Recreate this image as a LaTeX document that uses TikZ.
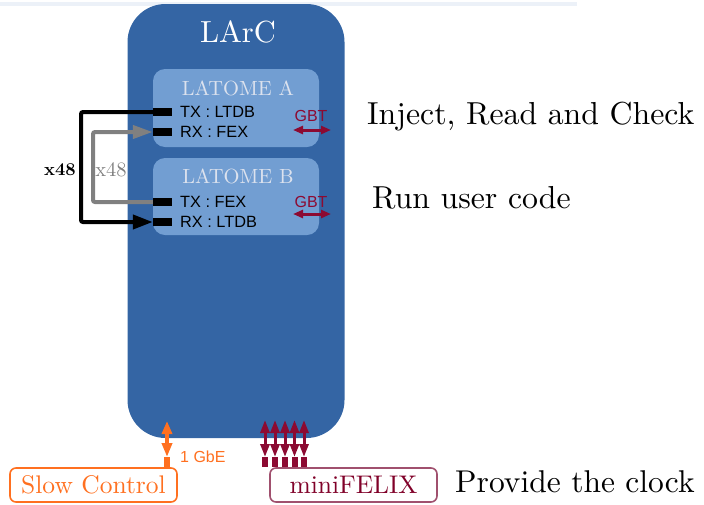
\documentclass[tikz,border=0pt]{standalone}
\usepackage{fontspec}
\usepackage{graphicx}
\newfontfamily\sansf{Liberation Sans}
\usetikzlibrary{arrows.meta}
\definecolor{larcblue}{RGB}{52,101,164}
\definecolor{latomeblue}{RGB}{114,158,210}
\definecolor{latometext}{RGB}{220,226,238}
\definecolor{gbtred}{RGB}{140,10,50}
\definecolor{slowor}{RGB}{255,112,32}
\definecolor{felixedge}{RGB}{160,80,110}
\definecolor{felixtext}{RGB}{128,0,40}
\definecolor{wiregray}{RGB}{128,128,128}
\definecolor{topline}{RGB}{236,241,248}
% serif text set at the 10pt design size and enlarged
\newcommand\sizedtext[2]{\scalebox{#1}{\fontsize{10}{12}\selectfont #2}}
\begin{document}
\begin{tikzpicture}[x=1pt,y=-1pt,
  board/.style={fill=larcblue,draw=none,rounded corners=38pt,minimum width=217pt,minimum height=434pt,inner sep=0pt},
  fpga/.style={fill=latomeblue,draw=none,rounded corners=12pt,minimum width=166pt,minimum height=78pt,inner sep=0pt},
  fpganame/.style={text=latometext,inner sep=0pt},
  port/.style={fill=black,draw=none,minimum width=19pt,minimum height=8pt,inner sep=0pt},
  portlabel/.style={font=\sansf\fontsize{16.3}{16.3}\selectfont,anchor=west,inner sep=0pt},
  gbtlabel/.style={font=\sansf\fontsize{16}{16}\selectfont,text=gbtred,inner sep=0pt},
  gbtarrow/.style={draw=gbtred,line width=3pt,{Triangle[length=10pt,width=8pt]}-{Triangle[length=10pt,width=8pt]}},
  blackwire/.style={draw=black,line width=4pt,rounded corners=2pt,-{Triangle[length=20pt,width=14pt]}},
  graywire/.style={draw=wiregray,line width=4pt,rounded corners=2pt,-{Triangle[length=20pt,width=13pt]}},
  note/.style={anchor=base west,inner sep=0pt},
  extbox/.style={draw,line width=1.6pt,rounded corners=6pt,minimum width=167pt,minimum height=34pt,inner sep=0pt},
  slowarrow/.style={draw=slowor,line width=4pt,{Triangle[length=13pt,width=10pt]}-{Triangle[length=14pt,width=10pt]}},
  felixarrow/.style={draw=gbtred,line width=3pt,{Triangle[length=13pt,width=9pt]}-{Triangle[length=13pt,width=9pt]}},
  stub/.style={line width=6pt}]
\useasboundingbox (0,0) rectangle (704,504);

% faint rule along the top edge
\fill[topline] (0,2) rectangle (577,6);

% LArC board
\node[board] (larc) at (236,221) {};
\node[text=white,inner sep=0pt] (larct) at (238,32) {\sizedtext{3.05}{LArC}};

% the two LATOME FPGAs
\node[fpga] (la) at (236,108) {};
\node[fpga,minimum height=77pt] (lb) at (236,196.5) {};
\node[fpganame] (lat) at (238,88) {\sizedtext{2.05}{LATOME A}};
\node[fpganame] (lbt) at (238,176) {\sizedtext{2.05}{LATOME B}};

% transceiver ports
\node[port] (txa) at (162.5,112) {};
\node[port] (rxa) at (162.5,132) {};
\node[port] (txb) at (162.5,202) {};
\node[port] (rxb) at (162.5,222) {};
\node[portlabel] (txat) at (180,112) {TX : LTDB};
\node[portlabel] (rxat) at (180,132) {RX : FEX};
\node[portlabel] (txbt) at (180,202) {TX : FEX};
\node[portlabel] (rxbt) at (180,222) {RX : LTDB};

% GBT links
\node[gbtlabel] (gbta) at (311,116) {GBT};
\node[gbtlabel] (gbtb) at (311,201.5) {GBT};
\coordinate (gal) at (293,130);
\coordinate (gar) at (331,130);
\coordinate (gbl) at (293,214);
\coordinate (gbr) at (331,214);
\draw[gbtarrow] (gal) -- (gar);
\draw[gbtarrow] (gbl) -- (gbr);

% loop-back fibres
\coordinate (kb) at (81,0);
\coordinate (kg) at (93,0);
\draw[blackwire] (txa.west) -- (txa.west -| kb) |- (rxb.west);
\draw[graywire] (txb.west) -- (txb.west -| kg) |- (rxa.west);
\node[inner sep=0pt] (nb) at (60,170) {\sizedtext{1.8}{\bfseries x48}};
\node[text=wiregray,inner sep=0pt] (ng) at (111,170) {\sizedtext{2.05}{x48}};

% descriptions
\node[note] (inj) at (367,124) {\sizedtext{3.18}{Inject, Read and Check}};
\node[note] (run) at (372,208) {\sizedtext{3.18}{Run user code}};
\node[note] (clk) at (455,492) {\sizedtext{3.15}{Provide the clock}};

% external systems
\node[extbox,draw=slowor,text=slowor] (slow) at (93.5,485) {\sizedtext{2.55}{Slow Control}};
\node[extbox,draw=felixedge,text=felixtext] (felix) at (353.5,485) {\sizedtext{2.55}{miniFELIX}};

% 1 GbE link
\coordinate (sa) at (167,421);
\coordinate (sb) at (167,457);
\draw[slowarrow] (sa) -- (sb);
\draw[slowor,stub] (sb) -- (sb |- slow.north);
\node[text=slowor,font=\sansf\fontsize{16}{16}\selectfont,anchor=west,inner sep=0pt] (gbe) at (180,457) {1 GbE};

% miniFELIX links
\foreach \x in {265,275,285,294.5,304} {
  \coordinate (fa) at (\x,420);
  \coordinate (fb) at (\x,457);
  \draw[felixarrow] (fa) -- (fb);
  \draw[gbtred,stub] (fb) -- (fb |- felix.north);
}
\end{tikzpicture}
\end{document}
